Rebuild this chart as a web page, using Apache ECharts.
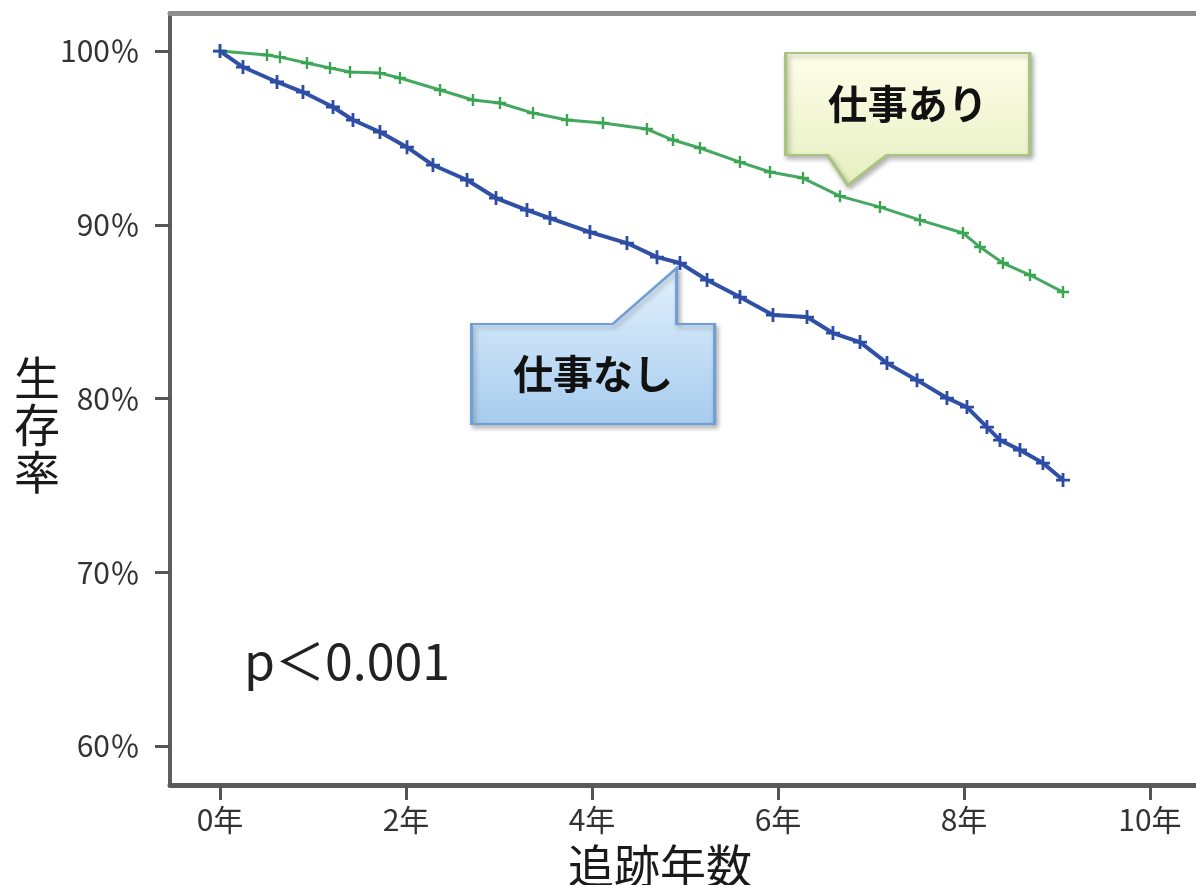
<!DOCTYPE html>
<html>
<head>
<meta charset="utf-8">
<script src="https://cdn.jsdelivr.net/npm/echarts@6/dist/echarts.min.js"></script>
<style>
html,body{margin:0;padding:0;background:#fff;}
#chart{width:1196px;height:885px;}
</style>
</head>
<body>
<div id="chart"></div>
<script>
// ---- data ----
const xTickValues = [0, 2, 4, 6, 8, 10];
const xTickLabels = ['0年', '2年', '4年', '6年', '8年', '10年'];
const yTickValues = [60, 70, 80, 90, 100];
const yTickLabels = ['60％', '70％', '80％', '90％', '100％'];
const seriesNames = ['仕事あり', '仕事なし'];
const withWork = [
  [0, 100], [0.505, 99.77], [0.645, 99.65], [0.935, 99.31], [1.183, 99.02],
  [1.398, 98.79], [1.72, 98.73], [1.935, 98.45], [2.366, 97.76], [2.72, 97.18],
  [3.011, 97.01], [3.366, 96.43], [3.731, 96.03], [4.118, 95.86], [4.591, 95.51],
  [4.871, 94.88], [5.161, 94.42], [5.591, 93.61], [5.914, 93.04], [6.269, 92.69],
  [6.667, 91.65], [7.097, 91.02], [7.527, 90.27], [7.989, 89.53], [8.172, 88.72],
  [8.419, 87.80], [8.71, 87.11], [9.065, 86.13]
];
const withoutWork = [
  [0, 100], [0.247, 99.08], [0.613, 98.22], [0.892, 97.64], [1.215, 96.78],
  [1.43, 96.03], [1.72, 95.34], [2.011, 94.47], [2.29, 93.44], [2.656, 92.58],
  [2.968, 91.54], [3.301, 90.85], [3.548, 90.39], [3.978, 89.58], [4.376, 88.95],
  [4.699, 88.14], [4.946, 87.80], [5.237, 86.82], [5.591, 85.84], [5.946, 84.81],
  [6.312, 84.69], [6.591, 83.77], [6.882, 83.25], [7.172, 82.04], [7.495, 81.06],
  [7.817, 80.03], [8.032, 79.51], [8.247, 78.36], [8.387, 77.61], [8.602, 77.04],
  [8.849, 76.29], [9.065, 75.31]
];
const calloutWithWork = [6.75, 92.29];
const calloutWithoutWork = [4.91, 87.51];
const pValueText = 'p＜0.001';
const xAxisName = '追跡年数';
const yAxisName = '生存率';

// ---- chart ----
const FONT = '"Noto Sans CJK JP", "Noto Sans", sans-serif';
const plus = 'path://M4,0 L6,0 L6,4 L10,4 L10,6 L6,6 L6,10 L4,10 L4,6 L0,6 L0,4 L4,4 Z';
const chart = echarts.init(document.getElementById('chart'));

const greenCallout = 'path://M-62,-132 L182,-132 L182,-30 L39,-30 L0,0 L-20,-30 L-62,-30 Z';
const blueCallout = 'path://M-205,56 L-64,56 L0,0 L0,56 L38,56 L38,156 L-205,156 Z';

chart.setOption({
  animation: false,
  backgroundColor: '#fff',
  title: [{
    text: pValueText, left: 244, top: 636, padding: 0,
    textStyle: {fontSize: 50, fontWeight: 'normal', color: '#222', fontFamily: FONT}
  }, {
    text: yAxisName.split('').join('\n'), left: 14, top: 354, padding: 0,
    textStyle: {fontSize: 46, lineHeight: 47, fontWeight: 'normal', color: '#1a1a1a', fontFamily: FONT}
  }],
  grid: {left: 170, right: 0, top: 13, bottom: 100, containLabel: false, outerBoundsMode: 'none'},
  xAxis: [{
    type: 'value', min: -0.5376, max: 10.495,
    name: xAxisName, nameLocation: 'middle', nameGap: 58,
    nameTextStyle: {fontSize: 46, color: '#1a1a1a', fontFamily: FONT, padding: [0, 46, 0, 0]},
    axisLine: {show: true, onZero: false, lineStyle: {color: '#5a5a5a', width: 5}},
    axisTick: {show: true, customValues: xTickValues, length: 15, lineStyle: {color: '#555', width: 3}},
    axisLabel: {
      customValues: xTickValues, margin: 20, fontSize: 30, color: '#333', fontFamily: FONT,
      formatter: v => xTickLabels[xTickValues.indexOf(v)] ?? ''
    },
    splitLine: {show: false}
  }, {
    type: 'value', position: 'top', min: -0.5376, max: 10.495,
    axisLine: {show: true, onZero: false, lineStyle: {color: '#8e8e8e', width: 5}},
    axisTick: {show: false}, axisLabel: {show: false}, splitLine: {show: false}
  }],
  yAxis: {
    type: 'value', min: 57.76, max: 102.19,
    axisLine: {show: true, onZero: false, lineStyle: {color: '#5e5e5e', width: 4}},
    axisTick: {show: true, customValues: yTickValues, length: 15, lineStyle: {color: '#555', width: 3}},
    axisLabel: {
      customValues: yTickValues, margin: 30, fontSize: 30, color: '#333', fontFamily: FONT,
      formatter: v => yTickLabels[yTickValues.indexOf(v)] ?? ''
    },
    splitLine: {show: false}
  },
  series: [{
    name: seriesNames[0], type: 'line', data: withWork, xAxisIndex: 0,
    lineStyle: {color: '#45a860', width: 3},
    symbol: plus, symbolSize: 12, showSymbol: true,
    itemStyle: {color: '#3aa551'},
    z: 3,
    markPoint: {
      z: 10,
      data: [{coord: calloutWithWork}],
      symbol: greenCallout, symbolSize: [244, 132], symbolOffset: [60, -66],
      itemStyle: {
        color: new echarts.graphic.LinearGradient(0, 0, 0, 1, [
          {offset: 0, color: '#fefeea'}, {offset: 1, color: '#e6efbf'}
        ]),
        borderColor: '#a9c47e', borderWidth: 2.5,
        shadowBlur: 5, shadowColor: 'rgba(0,0,0,0.28)', shadowOffsetX: 2, shadowOffsetY: 3
      },
      label: {
        show: true, position: 'inside', offset: [0, -15], formatter: seriesNames[0],
        fontSize: 40, fontWeight: 'bold', color: '#111', fontFamily: FONT
      }
    }
  }, {
    name: seriesNames[1], type: 'line', data: withoutWork, xAxisIndex: 0,
    lineStyle: {color: '#3050a8', width: 4},
    symbol: plus, symbolSize: 14, showSymbol: true,
    itemStyle: {color: '#2d4ca3'},
    z: 3,
    markPoint: {
      z: 10,
      data: [{coord: calloutWithoutWork}],
      symbol: blueCallout, symbolSize: [243, 156], symbolOffset: [-83.5, 78],
      itemStyle: {
        color: new echarts.graphic.LinearGradient(0, 0, 0, 1, [
          {offset: 0, color: '#e4f2fd'}, {offset: 1, color: '#a6cbee'}
        ]),
        borderColor: '#6f9fd6', borderWidth: 2.5,
        shadowBlur: 5, shadowColor: 'rgba(0,0,0,0.28)', shadowOffsetX: 2, shadowOffsetY: 3
      },
      label: {
        show: true, position: 'inside', offset: [0, 28], formatter: seriesNames[1],
        fontSize: 40, fontWeight: 'bold', color: '#111', fontFamily: FONT
      }
    }
  }]
});
</script>
</body>
</html>
